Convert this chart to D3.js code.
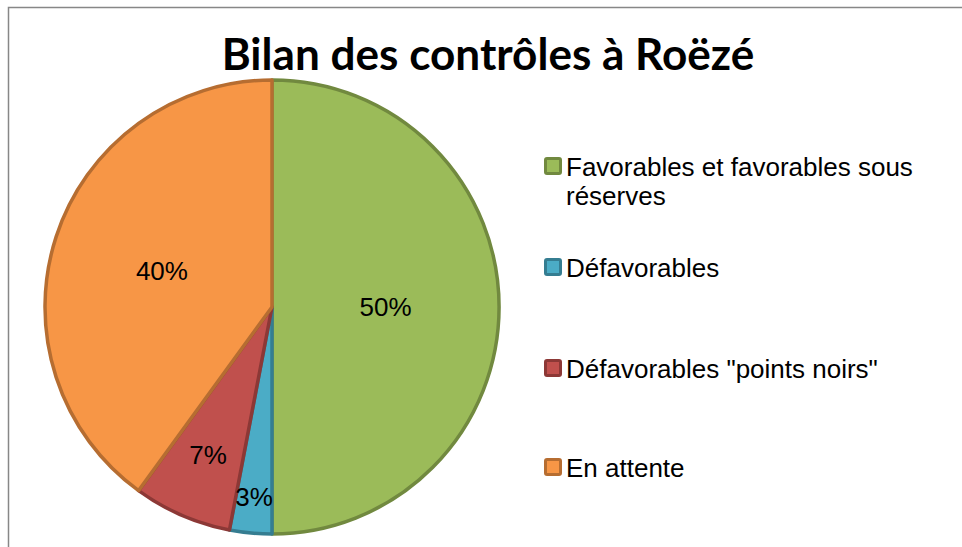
<!DOCTYPE html>
<html>
<head>
<meta charset="utf-8">
<script src="https://cdn.jsdelivr.net/npm/d3@7"></script>
<style>
  body { margin: 0; background: #fff; }
  svg { display: block; }
</style>
</head>
<body>
<div id="chart"></div>
<script>
// chart data
const categories = ["Favorables et favorables sous réserves", "Défavorables", "Défavorables \"points noirs\"", "En attente"];
const values = [50, 3, 7, 40];
const fills = ["#9BBB59", "#4BACC6", "#C0504D", "#F79646"];
const strokes = ["#71893F", "#357D91", "#8C3836", "#B66D31"];
const chartTitle = "Bilan des contrôles à Roëzé";

const width = 962, height = 547;

const svg = d3.select("#chart").append("svg")
    .attr("width", width)
    .attr("height", height);

// outer frame (runs off right and bottom edges like the original)
svg.append("rect")
    .attr("x", 8.5).attr("y", 7.5)
    .attr("width", 1000).attr("height", 600)
    .attr("fill", "none")
    .attr("stroke", "#878787")
    .attr("stroke-width", 1.5);

// title - fit it to the width the original takes up
const title = svg.append("text")
    .attr("x", 488)
    .attr("y", 70)
    .attr("text-anchor", "middle")
    .style("font-family", "Lato, 'Open Sans', sans-serif")
    .style("font-weight", "bold")
    .style("font-size", "36px")
    .attr("fill", "#000")
    .text(chartTitle);
const tw = title.node().getComputedTextLength();
title.style("font-size", (36 * 533 / tw).toFixed(1) + "px");

// pie
const cx = 272, cy = 307, radius = 227;
const g = svg.append("g").attr("transform", `translate(${cx},${cy})`);

const pie = d3.pie().sort(null).value(d => d)(values);
const arc = d3.arc().innerRadius(0).outerRadius(radius);

g.selectAll("path.slice")
    .data(pie)
    .enter().append("path")
    .attr("class", "slice")
    .attr("d", arc)
    .attr("fill", (d, i) => fills[i])
    .attr("stroke", (d, i) => strokes[i])
    .attr("stroke-width", 3.5)
    .attr("stroke-linejoin", "round");

// small slices get pushed outward, like Excel does
const labelRadius = [0.5, 0.84, 0.71, 0.51];
const total = d3.sum(values);

g.selectAll("text.pct")
    .data(pie)
    .enter().append("text")
    .attr("class", "pct")
    .attr("transform", (d, i) => {
        const a = (d.startAngle + d.endAngle) / 2;
        const r = radius * labelRadius[i];
        return `translate(${Math.sin(a) * r},${-Math.cos(a) * r})`;
    })
    .attr("text-anchor", "middle")
    .attr("dy", "0.35em")
    .style("font-family", "'Liberation Sans', Arial, sans-serif")
    .style("font-size", "26px")
    .attr("fill", "#000")
    .text(d => Math.round(d.value / total * 100) + "%");

// legend
const legendX = 544;
const legendRows = [166, 267, 368, 467];
const legend = svg.append("g");

categories.forEach((name, i) => {
    const row = legend.append("g").attr("transform", `translate(${legendX},${legendRows[i]})`);
    row.append("rect")
        .attr("x", 1.5).attr("y", -7.5)
        .attr("width", 15).attr("height", 15)
        .attr("rx", 1.5)
        .attr("fill", fills[i])
        .attr("stroke", strokes[i])
        .attr("stroke-width", 3);

    // wrap the long first label onto two lines
    const lines = name.length > 30 ? ["Favorables et favorables sous", "réserves"] : [name];
    const txt = row.append("text")
        .attr("x", 22)
        .attr("y", 9.5)
        .style("font-family", "'Liberation Sans', Arial, sans-serif")
        .style("font-size", "26px")
        .attr("fill", "#000");
    lines.forEach((l, j) => {
        txt.append("tspan").attr("x", 22).attr("dy", j === 0 ? 0 : 29).text(l);
    });
});
</script>
</body>
</html>
